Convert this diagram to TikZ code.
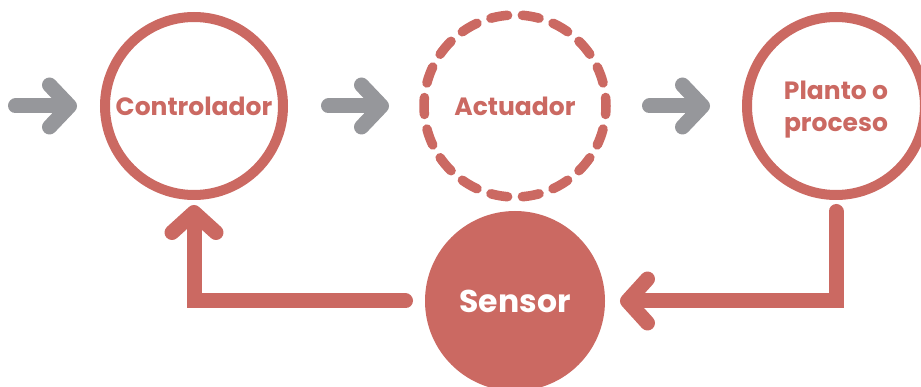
\documentclass[tikz,border=0pt]{standalone}
\usepackage{fontspec}
\setmainfont{Poppins}
\usetikzlibrary{arrows.meta}
\definecolor{brick}{RGB}{203,105,98}
\definecolor{arrowgray}{RGB}{150,151,155}
\begin{document}
\begin{tikzpicture}[x=1pt,y=-1pt,
  ring/.style={circle, draw=brick, line width=10pt, minimum size=178pt, inner sep=0pt, outer sep=5pt,
    text=brick, font=\bfseries\fontsize{25}{31}\selectfont, align=center},
  dashring/.style={circle, draw=none, minimum size=182pt, inner sep=0pt, outer sep=5pt,
    text=brick, font=\bfseries\fontsize{25}{31}\selectfont},
  ringtext/.style={inner sep=0pt, text=brick, font=\bfseries\fontsize{25}{32}\selectfont, align=center},
  dashline/.style={draw=brick, line width=9.5pt, line cap=round, dash pattern=on 17pt off 14.765pt, dash phase=8.5pt},
  disk/.style={circle, fill=brick, draw=none, minimum size=180pt, inner sep=0pt, outer sep=0pt,
    text=white, font=\bfseries\fontsize{31.5}{32}\selectfont},
  grayarrow/.style={draw=arrowgray, line width=15pt, line cap=round, -{Straight Barb[length=20pt, width=42pt, round]}},
  redarrow/.style={draw=brick, line width=15pt, line cap=round, -{Straight Barb[length=20pt, width=44pt, round]}},
]
\useasboundingbox (0,0) rectangle (921,387);
\node[ring] (ctrl) at (194,106) {Controlador};
\node[dashring] (act) at (515,106) {Actuador};
\draw[dashline] (act.center) circle[radius=91];
\node[ring] (plant) at (836,106) {};
\node[ringtext] (plantlabel) at ([yshift=-4pt]plant.center) {Planto o\\proceso};
\node[disk] (sens) at (515,301) {Sensor};
\coordinate (in) at (15.5,106);
\draw[grayarrow, shorten >=23pt] (in) -- (ctrl);
\draw[grayarrow, shorten <=40.5pt, shorten >=30pt] (ctrl) -- (act);
\draw[grayarrow, shorten <=38.5pt, shorten >=32pt] (act) -- (plant);
\draw[redarrow, shorten <=11.5pt, shorten >=15pt] (plant) |- (sens);
\draw[redarrow, shorten <=19.5pt, shorten >=5pt] (sens) -| (ctrl);
\end{tikzpicture}
\end{document}
